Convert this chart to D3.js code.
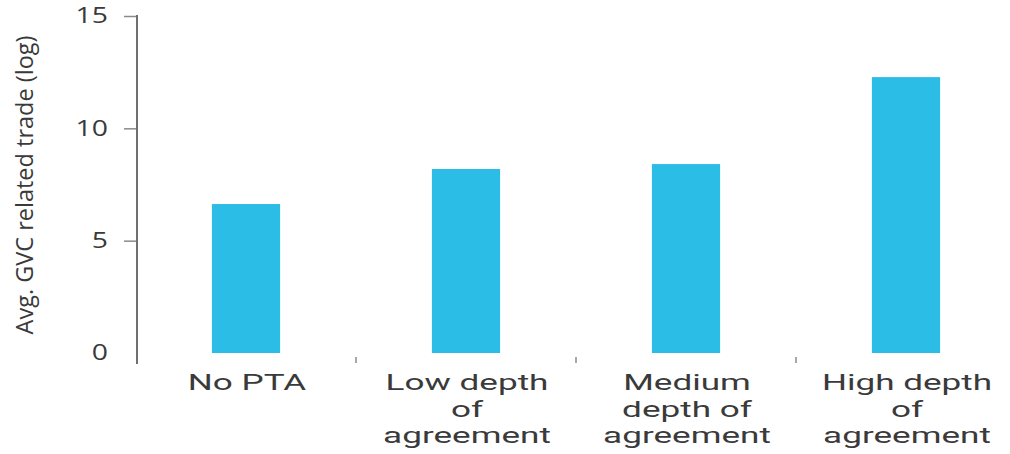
<!DOCTYPE html>
<html>
<head>
<meta charset="utf-8">
<script src="https://cdn.jsdelivr.net/npm/d3@7"></script>
<style>
  html, body { margin: 0; padding: 0; background: #fff; }
  svg { display: block; }
</style>
</head>
<body>
<svg id="chart" width="1010" height="454"></svg>
<script>
const categories = [
  ["No PTA"],
  ["Low depth", "of", "agreement"],
  ["Medium", "depth of", "agreement"],
  ["High depth", "of", "agreement"]
];
const categoryKeys = ["No PTA", "Low depth of agreement", "Medium depth of agreement", "High depth of agreement"];
const values = [6.63, 8.19, 8.41, 12.28];
const yTicks = [0, 5, 10, 15];
const yTitle = "Avg. GVC related trade (log)";

const svg = d3.select("#chart");
const font = "'Open Sans', 'DejaVu Sans', sans-serif";
const labelFont = "Roboto, 'Open Sans', sans-serif";
const textColor = "#3a3a3a";

const x = d3.scaleBand()
  .domain(categoryKeys)
  .range([136, 1016])
  .paddingInner(0.69)
  .paddingOuter(0.345);

const y = d3.scaleLinear().domain([0, 15]).range([353, 16]);

// bars
svg.append("g").selectAll("rect")
  .data(values)
  .join("rect")
  .attr("x", (d, i) => x(categoryKeys[i]))
  .attr("width", x.bandwidth())
  .attr("y", d => y(d))
  .attr("height", d => y(0) - y(d))
  .attr("fill", "#2bbde5");

// y axis
const yAxis = svg.append("g").attr("transform", "translate(137,0)")
  .call(d3.axisLeft(y).tickValues(yTicks).tickSize(13).tickPadding(13).tickFormat(d3.format("d")));
yAxis.select(".domain").remove();
yAxis.append("line")
  .attr("x1", 0).attr("x2", 0)
  .attr("y1", 15).attr("y2", 364)
  .attr("stroke", "#707070").attr("stroke-width", 2);
yAxis.selectAll(".tick line").attr("stroke", "#8a8a8a").attr("stroke-width", 1.5)
  .attr("opacity", d => d === 0 ? 0 : 1);
yAxis.selectAll(".tick text")
  .attr("font-family", font)
  .attr("font-size", 21)
  .attr("fill", textColor)
  .attr("text-anchor", "end")
  .attr("transform", function() {
    const xx = +d3.select(this).attr("x");
    return `translate(${xx - 3},0) scale(1.35,1) translate(${-xx},0)`;
  });

// x separator ticks
const step = x.step();
const sepData = categoryKeys.slice(0, -1).map(k => x(k) + x.bandwidth() + (step - x.bandwidth()) / 2);
svg.append("g").selectAll("line")
  .data(sepData)
  .join("line")
  .attr("x1", d => d).attr("x2", d => d)
  .attr("y1", 357).attr("y2", 363)
  .attr("stroke", "#8a8a8a").attr("stroke-width", 1.5);

// x labels
const lineBase = [390.5, 417, 443.5];
const labels = svg.append("g");
categories.forEach((lines, i) => {
  const cx = x(categoryKeys[i]) + x.bandwidth() / 2 + 1;
  const g = labels.append("g").attr("transform", `translate(${cx},0) scale(1.56,1)`);
  lines.forEach((ln, j) => {
    g.append("text")
      .attr("x", 0)
      .attr("y", lineBase[j])
      .attr("text-anchor", "middle")
      .attr("font-family", labelFont)
      .attr("font-size", 22.5)
      .attr("fill", textColor)
      .text(ln);
  });
});

// y title
svg.append("text")
  .attr("transform", "translate(33,185) rotate(-90)")
  .attr("text-anchor", "middle")
  .attr("font-family", font)
  .attr("font-size", 23.5)
  .attr("fill", textColor)
  .text(yTitle);
</script>
</body>
</html>
